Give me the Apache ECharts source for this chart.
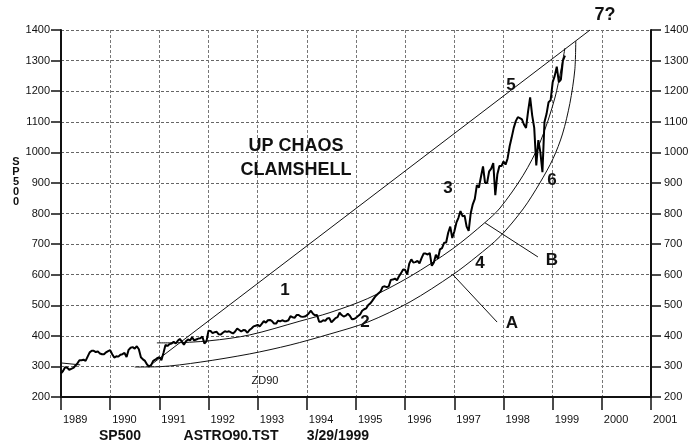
<!DOCTYPE html>
<html>
<head>
<meta charset="utf-8">
<script src="https://cdn.jsdelivr.net/npm/echarts@6/dist/echarts.min.js"></script>
<style>
html, body { margin: 0; padding: 0; background: #fff; }
#chart { width: 698px; height: 443px; }
</style>
</head>
<body>
<div id="chart"></div>
<script>
'use strict';

// SP500, two readings a month (mid month, month end)
var spxStart = 277;
var spx1989 = [285,297, 296,289, 292,295, 302,310, 320,320, 322,318, 332,346, 351,351, 347,349, 342,340, 340,346, 350,353];
var spx1990 = [340,329, 333,332, 338,340, 344,331, 354,361, 363,358, 366,356, 330,323, 318,306, 300,304, 318,322, 327,330];
var spx1991 = [320,344, 370,367, 373,375, 381,375, 384,390, 381,371, 382,388, 385,395, 385,388, 391,392, 398,375, 382,417];
var spx1992 = [416,409, 412,413, 405,404, 410,415, 413,415, 411,408, 414,424, 419,414, 419,418, 410,419, 424,431, 433,436];
var spx1993 = [431,439, 448,443, 451,452, 448,440, 440,450, 447,451, 448,448, 451,464, 461,459, 468,468, 463,462, 463,467];
var spx1994 = [474,482, 472,467, 468,446, 446,451, 449,457, 458,444, 451,458, 461,476, 468,463, 466,472, 466,454, 455,459];
var spx1995 = [465,470, 482,487, 490,501, 506,515, 525,533, 539,545, 560,562, 559,562, 583,584, 587,582, 595,605, 617,616];
var spx1996 = [600,636, 650,640, 641,645, 637,654, 669,669, 666,671, 629,640, 665,652, 683,687, 704,705, 737,757, 720,741];
var spx1997 = [770,786, 808,791, 793,757, 743,801, 830,848, 893,885, 920,954, 900,900, 938,947, 965,860, 928,955, 955,970];
var spx1998 = [960,980, 1020,1049, 1080,1102, 1115,1112, 1108,1091, 1080,1134, 1180,1121, 1080,957, 1040,1000, 935,1099, 1125,1164, 1170,1229];
var spx1999 = [1250,1280, 1230,1238, 1300,1316];

// clamshell curves
var curveAYears  = [1990.50, 1991.00, 1991.83, 1992.84, 1993.66, 1994.47, 1995.24, 1996.10, 1996.97, 1997.46, 1997.93, 1998.40, 1998.74, 1999.01, 1999.20, 1999.35, 1999.45, 1999.47];
var curveAValues = [298, 299, 314, 341, 370, 406, 445, 511, 600, 660, 725, 815, 900, 980, 1060, 1160, 1269, 1364];
var curveBYears  = [1990.95, 1991.20, 1992.03, 1992.84, 1993.86, 1994.47, 1995.24, 1996.10, 1996.97, 1997.62, 1997.93, 1998.40, 1998.74, 1999.05, 1999.25];
var curveBValues = [377, 377, 384, 403, 448, 476, 522, 594, 685, 770, 818, 925, 1031, 1181, 1341];
var line1Years   = [1990.77, 1999.76];
var line1Values  = [298, 1400];
var pointerA = [[1996.97, 600], [1997.87, 445]];
var pointerB = [[1997.62, 770], [1998.70, 658]];
var stub300 = [[1988.78, 315], [1989.39, 305]];
var stub400 = [[1988.27, 416], [1988.98, 400]];

var yearTicks = [1989, 2001];
var priceTicks = [200, 1400];

var spxYears = [1989, 1990, 1991, 1992, 1993, 1994, 1995, 1996, 1997, 1998, 1999];
var spxByYear = [spx1989, spx1990, spx1991, spx1992, spx1993, spx1994, spx1995, spx1996, spx1997, spx1998, spx1999];

var spx = [[1989, spxStart]];
for (var i = 0; i < spxYears.length; i++) {
    var arr = spxByYear[i];
    for (var j = 0; j < arr.length; j++) {
        spx.push([spxYears[i] + (j + 1) / 24, arr[j]]);
    }
}

function pairs(xs, ys) {
    var out = [];
    for (var k = 0; k < xs.length; k++) out.push([xs[k], ys[k]]);
    return out;
}

var FONT = 'Liberation Sans, Arial, sans-serif';
var thin = { color: '#111', width: 1 };

function txt(s, x, y, size, bold) {
    return {
        type: 'text', x: x, y: y, z: 100,
        style: {
            text: s, fill: '#111', font: (bold ? 'bold ' : '') + size + 'px ' + FONT,
            textAlign: 'center', textVerticalAlign: 'middle'
        }
    };
}

function yAxisCfg(pos) {
    return {
        type: 'value', position: pos, min: priceTicks[0], max: priceTicks[1], interval: 100,
        axisLine: { show: true, lineStyle: { color: '#111', width: 2 } },
        axisTick: { show: true, length: 10, lineStyle: { color: '#111', width: 1.5 } },
        splitLine: { show: pos === 'left', lineStyle: { color: '#666', type: [3, 2], width: 1 } },
        axisLabel: { color: '#111', fontSize: 11, fontFamily: FONT, margin: pos === 'left' ? 11 : 13,
            formatter: function (v) { return String(v); } }
    };
}

var chart = echarts.init(document.getElementById('chart'));
chart.setOption({
    backgroundColor: '#fff',
    animation: false,
    grid: { left: 61, right: 47, top: 30, bottom: 46 },
    xAxis: {
        type: 'value', min: yearTicks[0], max: yearTicks[1], interval: 1,
        axisLine: { lineStyle: { color: '#111', width: 2 } },
        axisTick: { show: true, length: 13, lineStyle: { color: '#111', width: 1.5 } },
        splitLine: { show: true, lineStyle: { color: '#777', type: [3, 2], width: 1 } },
        axisLabel: { color: '#111', fontSize: 11, fontFamily: FONT, align: 'left', margin: 17, padding: [0, 0, 0, 2],
            showMinLabel: true, showMaxLabel: true, formatter: function (v) { return String(v); } }
    },
    yAxis: [yAxisCfg('left'), yAxisCfg('right')],
    series: [
        { type: 'line', data: spx, symbol: 'none', lineStyle: { color: '#000', width: 2 }, z: 5 },
        { type: 'line', data: pairs(curveAYears, curveAValues), symbol: 'none', smooth: 0.3, lineStyle: thin },
        { type: 'line', data: pairs(curveBYears, curveBValues), symbol: 'none', smooth: 0.3, lineStyle: thin },
        { type: 'line', data: pairs(line1Years, line1Values), symbol: 'none', lineStyle: thin },
        { type: 'line', data: pointerA, symbol: 'none', lineStyle: thin },
        { type: 'line', data: pointerB, symbol: 'none', lineStyle: thin },
        { type: 'line', data: stub300, symbol: 'none', clip: false, lineStyle: thin },
        { type: 'line', data: stub400, symbol: 'none', clip: false, lineStyle: thin }
    ],
    graphic: [
        {
            type: 'text', x: 16, y: 157,
            style: { text: 'S\nP\n5\n0\n0', fill: '#111', font: 'bold 11px ' + FONT, lineHeight: 10, textAlign: 'center' }
        },
        txt('UP CHAOS', 296, 146, 18, true),
        txt('CLAMSHELL', 296, 170, 18, true),
        txt('1', 285, 290, 17, true),
        txt('2', 365, 322, 17, true),
        txt('3', 448, 188, 17, true),
        txt('4', 480, 263, 17, true),
        txt('5', 511, 85, 17, true),
        txt('6', 552, 180, 17, true),
        txt('7?', 605, 15, 18, true),
        txt('A', 512, 323, 17, true),
        txt('B', 552, 260, 17, true),
        txt('ZD90', 265, 381, 11, false),
        txt('SP500', 120, 436, 14, true),
        txt('ASTRO90.TST', 231, 436, 14, true),
        txt('3/29/1999', 338, 436, 14, true)
    ]
});
</script>
</body>
</html>
